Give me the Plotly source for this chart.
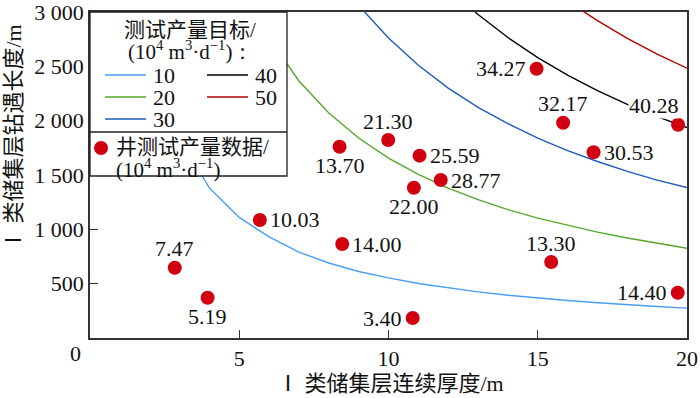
import plotly.graph_objects as go

# ---------------- data ----------------
# target-production contour lines (x: thickness m, y: drilled length m)
x10 = [1.8, 2, 3, 4, 5, 6, 7, 8, 9, 10, 11, 12, 13, 14, 15, 16, 17, 18, 19, 20]
y10 = [3060, 2750, 1840, 1380, 1110, 930, 790, 690, 612, 553, 502, 460, 424, 394, 367, 345, 325, 306, 290, 275]
x20 = [5.5, 6, 7, 8, 9, 10, 11, 12, 13, 14, 15, 16, 17, 18, 19, 20]
y20 = [3010, 2760, 2365, 2070, 1840, 1655, 1505, 1380, 1273, 1182, 1103, 1035, 974, 920, 871, 826]
x30 = [9.2, 10, 11, 12, 13, 14, 15, 16, 17, 18, 19, 20]
y30 = [3000, 2760, 2510, 2300, 2123, 1972, 1840, 1725, 1624, 1533, 1453, 1385]
x40 = [12.9, 13, 14, 15, 16, 17, 18, 19, 20]
y40 = [3000, 2977, 2765, 2580, 2420, 2277, 2150, 2037, 1937]
x50 = [16.5, 17, 18, 19, 20]
y50 = [3010, 2921, 2758, 2613, 2483]

# well test data
well_x = [2.84, 3.94, 5.69, 8.45, 8.36, 9.99, 11.04, 11.75, 10.85, 14.96, 15.85, 16.87, 19.70, 15.45, 19.69, 10.81]
well_y = [647, 371, 1086, 865, 1760, 1822, 1678, 1454, 1383, 2478, 1981, 1709, 1963, 699, 417, 184]
well_lab = ["7.47", "5.19", "10.03", "14.00", "13.70", "21.30", "25.59", "28.77", "22.00",
            "34.27", "32.17", "30.53", "40.28", "13.30", "14.40", "3.40"]
lab_pos = ["above", "below", "right", "right", "below", "above", "right", "right", "below",
           "left", "above", "right", "upleft", "above", "left", "left"]

x_ticks = [5, 10, 15, 20]
y_ticks = [500, 1000, 1500, 2000, 2500, 3000]
y_ticktext = ["500", "1 000", "1 500", "2 000", "2 500", "3 000"]

targets = ["10", "20", "30", "40", "50"]
colors = ["#4a9ff2", "#55a82a", "#1d5cbd", "#000000", "#b00000"]
curves = [(x10, y10), (x20, y20), (x30, y30), (x40, y40), (x50, y50)]

FONT = "Times New Roman, Liberation Serif, serif"
CJK = "Times New Roman, Liberation Serif, Noto Sans CJK SC, serif"
RED = "#d00010"
TXT = "#111"

W, H = 700, 398
L, R, T, B = 90, 13, 12, 60
PW, PH = W - L - R, H - T - B


def px(v):
    return (v - L) / PW


def py(v):
    return (H - B - v) / PH


fig = go.Figure()
for (xs, ys), c, n in zip(curves, colors, targets):
    fig.add_trace(go.Scatter(x=xs, y=ys, mode="lines", line=dict(color=c, width=1.4),
                             name=n, showlegend=False, hoverinfo="skip"))

fig.add_trace(go.Scatter(x=well_x, y=well_y, mode="markers",
                         marker=dict(color=RED, size=14, line=dict(width=0)),
                         showlegend=False))

annotations = []
for x, y, t, p in zip(well_x, well_y, well_lab, lab_pos):
    a = dict(x=x, y=y, text=t, showarrow=False, xanchor="center", yanchor="middle",
             font=dict(family=FONT, size=22, color=TXT))
    if p == "above":
        a.update(yshift=19)
    elif p == "below":
        a.update(yshift=-19)
    elif p == "right":
        a.update(xanchor="left", xshift=8)
    elif p == "left":
        a.update(xanchor="right", xshift=-9)
    else:
        a.update(xshift=-24, yshift=19, bgcolor="white", borderpad=0)
    annotations.append(a)


def note(x, y, text, size=21, family=CJK, xanchor="center", yanchor="middle", **kw):
    d = dict(xref="paper", yref="paper", x=x, y=y, text=text, showarrow=False,
             xanchor=xanchor, yanchor=yanchor, font=dict(family=family, size=size, color=TXT))
    d.update(kw)
    annotations.append(d)


# axis titles and corner zero
note(px(390), py(383), "Ⅰ 类储集层连续厚度/m", size=22)
note(px(13), py(138), "Ⅰ 类储集层钻遇长度/m", size=22, textangle=-90)
note(px(75), py(353), "0", size=22, family=FONT)

# ---------------- manual legend ----------------
shapes = []
shapes.append(dict(type="rect", xref="paper", yref="paper", x0=px(90), x1=px(287), y0=py(176), y1=py(12),
                   fillcolor="white", line=dict(color="#222", width=1.3), layer="above"))
shapes.append(dict(type="line", xref="paper", yref="paper", x0=px(90), x1=px(287), y0=py(132), y1=py(132),
                   line=dict(color="#222", width=1.3), layer="above"))
note(px(190), py(30), "测试产量目标/")
note(px(190), py(50), "(10<sup>4</sup> m<sup>3</sup>·d<sup>−1</sup>)：", family=FONT)
leg_pos = [(105, 75), (105, 97), (105, 119), (207, 75), (207, 97)]
for (lx, ly), c, n in zip(leg_pos, colors, targets):
    shapes.append(dict(type="line", xref="paper", yref="paper", x0=px(lx), x1=px(lx + 41),
                       y0=py(ly), y1=py(ly), line=dict(color=c, width=1.4), layer="above"))
    note(px(lx + 46), py(ly), n, size=22, family=FONT, xanchor="left")
shapes.append(dict(type="circle", xref="paper", yref="paper", x0=px(94), x1=px(108), y0=py(155), y1=py(141),
                   fillcolor=RED, line=dict(width=0), layer="above"))
note(px(114), py(147), "井测试产量数据/", xanchor="left")
note(px(114), py(168), "(10<sup>4</sup> m<sup>3</sup>·d<sup>−1</sup>)", family=FONT, xanchor="left")

fig.update_layout(
    width=W, height=H, margin=dict(l=L, r=R, t=T, b=B, autoexpand=False),
    paper_bgcolor="white", plot_bgcolor="white",
    annotations=annotations, shapes=shapes, showlegend=False,
)
fig.update_xaxes(range=[0, 20], tickvals=x_ticks, ticktext=[str(v) for v in x_ticks],
                 ticks="inside", ticklen=8, tickwidth=1.3, tickcolor="#333", automargin=False,
                 ticklabeloverflow="allow",
                 showline=True, mirror=True, linecolor="#333", linewidth=1.6,
                 showgrid=False, zeroline=False, tickfont=dict(family=FONT, size=22, color=TXT))
fig.update_yaxes(range=[0, 3000], tickvals=y_ticks, ticktext=y_ticktext,
                 ticks="inside", ticklen=8, tickwidth=1.3, tickcolor="#333", automargin=False,
                 ticklabeloverflow="allow",
                 showline=True, mirror=True, linecolor="#333", linewidth=1.6,
                 showgrid=False, zeroline=False, tickfont=dict(family=FONT, size=22, color=TXT))

fig.write_html("out.html", config={"displayModeBar": False},
               post_script="document.body.style.margin='0';document.body.style.padding='0';")
